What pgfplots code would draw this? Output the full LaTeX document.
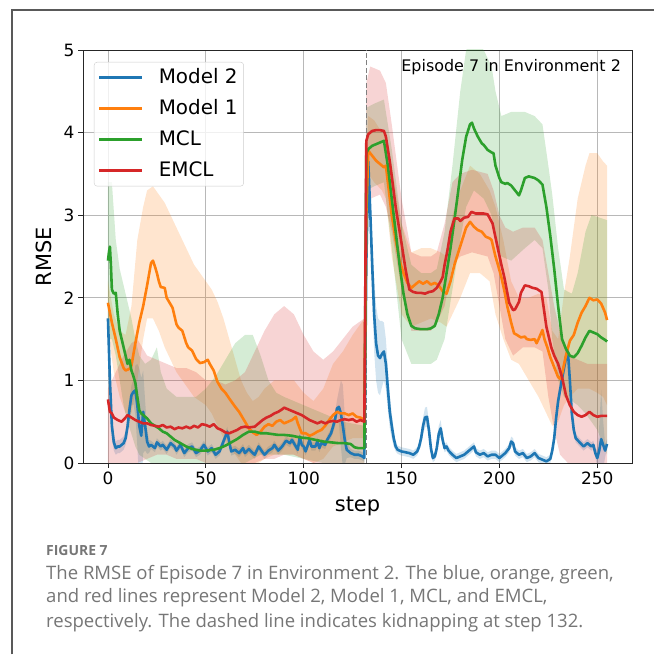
\documentclass[border=0pt]{standalone}
\usepackage{fontspec}
\setmainfont{DejaVu Sans}
\newfontfamily\capfont{Open Sans}
\usepackage{pgfplots}
\usepackage{pgfplotstable}
\pgfplotsset{compat=1.18}
\usepgfplotslibrary{fillbetween}

\definecolor{cB}{HTML}{1F77B4}
\definecolor{cO}{HTML}{FF7F0E}
\definecolor{cG}{HTML}{2CA02C}
\definecolor{cR}{HTML}{D62728}
\definecolor{capgray}{RGB}{118,118,118}

% Model 2: mean m, half width d of the band
\pgfplotstableread{
x m d
0 1.75 0.15
1 1.0 0.2
2 0.45 0.15
3 0.25 0.1
4 0.18 0.08
5 0.2 0.08
6 0.2 0.08
7 0.22 0.08
8 0.24 0.08
9 0.3 0.08
10 0.44 0.12
11 0.65 0.12
12 0.82 0.12
13 0.86 0.15
14 0.88 0.3
15 0.7 0.5
16 0.45 0.7
17 0.33 0.7
18 0.62 0.5
19 0.45 0.3
20 0.26 0.15
21 0.2 0.08
22 0.22 0.05
24 0.18 0.05
25 0.25 0.05
27 0.2 0.05
28 0.22 0.05
30 0.16 0.05
32 0.24 0.05
34 0.2 0.05
35 0.15 0.05
37 0.22 0.05
39 0.12 0.05
41 0.18 0.05
43 0.2 0.05
45 0.12 0.05
47 0.15 0.05
49 0.22 0.05
51 0.14 0.05
53 0.18 0.05
55 0.1 0.05
57 0.14 0.05
58 0.2 0.05
60 0.32 0.06
61 0.38 0.06
62 0.25 0.05
63 0.14 0.05
65 0.16 0.05
67 0.12 0.05
69 0.18 0.05
70 0.12 0.05
72 0.17 0.05
74 0.12 0.05
75 0.1 0.05
77 0.2 0.05
79 0.13 0.05
80 0.1 0.05
82 0.15 0.05
84 0.18 0.05
85 0.22 0.05
87 0.15 0.05
89 0.2 0.05
91 0.27 0.05
93 0.24 0.05
94 0.28 0.05
96 0.2 0.05
97 0.16 0.05
98 0.32 0.05
99 0.22 0.05
100 0.2 0.05
101 0.14 0.05
103 0.28 0.05
104 0.2 0.05
106 0.2 0.05
107 0.26 0.05
108 0.18 0.05
109 0.24 0.05
111 0.22 0.05
112 0.28 0.05
114 0.36 0.06
116 0.52 0.08
117 0.66 0.1
118 0.68 0.2
119 0.6 0.4
120 0.45 0.5
121 0.28 0.3
122 0.16 0.1
124 0.12 0.05
126 0.1 0.05
128 0.1 0.05
130 0.08 0.05
131 0.06 0.05
132 2.4 0.15
133 3.65 0.15
134 3.05 0.25
135 2.4 0.35
136 1.8 0.45
137 1.45 0.45
138 1.3 0.45
139 1.27 0.45
140 1.32 0.4
141 1.35 0.35
142 1.2 0.3
143 0.9 0.25
144 0.62 0.2
145 0.45 0.15
146 0.3 0.1
147 0.2 0.06
148 0.16 0.05
150 0.14 0.05
152 0.13 0.05
154 0.12 0.05
156 0.1 0.05
158 0.14 0.05
159 0.2 0.05
160 0.3 0.08
161 0.45 0.1
162 0.55 0.12
163 0.56 0.12
164 0.4 0.1
165 0.18 0.06
166 0.06 0.05
167 0.08 0.05
168 0.18 0.08
169 0.35 0.1
170 0.42 0.1
171 0.28 0.06
172 0.18 0.05
173 0.2 0.05
174 0.15 0.05
176 0.1 0.05
178 0.06 0.05
180 0.08 0.05
182 0.1 0.05
184 0.14 0.05
186 0.18 0.05
187 0.2 0.05
188 0.13 0.05
190 0.1 0.05
192 0.12 0.05
194 0.08 0.05
196 0.1 0.05
198 0.1 0.05
200 0.06 0.05
201 0.08 0.05
203 0.12 0.05
205 0.18 0.05
206 0.26 0.06
207 0.24 0.06
208 0.14 0.05
210 0.1 0.05
212 0.12 0.05
214 0.06 0.05
216 0.08 0.05
218 0.12 0.05
220 0.06 0.05
222 0.04 0.05
224 0.02 0.05
226 0.05 0.05
227 0.15 0.05
228 0.3 0.06
229 0.55 0.08
230 0.75 0.1
232 1.02 0.1
234 1.28 0.1
235 1.35 0.1
236 1.0 0.1
237 0.6 0.08
238 0.4 0.06
239 0.3 0.05
241 0.25 0.05
243 0.2 0.05
245 0.24 0.05
247 0.2 0.05
248 0.22 0.05
249 0.12 0.05
250 0.06 0.1
251 0.15 0.3
252 0.29 0.6
253 0.22 0.3
254 0.15 0.08
255 0.23 0.06
}\tblB

% Model 1
\pgfplotstableread{
x m
0 1.94
2 1.7
4 1.5
6 1.28
8 1.15
9 1.12
11 1.14
12 1.18
14 1.45
16 1.7
18 1.9
20 2.15
22 2.42
23 2.45
24 2.38
25 2.3
26 2.2
27 2.13
29 2.12
30 2.0
32 1.92
33 1.88
35 1.68
36 1.64
38 1.6
40 1.45
41 1.4
43 1.36
45 1.26
47 1.21
49 1.22
51 1.25
52 1.2
54 1.12
56 0.98
58 0.9
60 0.85
62 0.78
65 0.68
67 0.62
70 0.5
72 0.42
74 0.37
76 0.34
78 0.38
80 0.44
82 0.47
84 0.45
86 0.5
88 0.52
90 0.48
92 0.5
94 0.52
96 0.56
97 0.48
99 0.36
101 0.36
103 0.33
105 0.35
107 0.38
109 0.4
111 0.45
113 0.52
115 0.58
117 0.62
119 0.6
121 0.6
123 0.58
125 0.6
127 0.56
129 0.55
131 0.52
132 3.0
133 3.78
135 3.72
137 3.66
139 3.62
141 3.58
142 3.6
143 3.4
145 3.0
147 2.7
149 2.45
151 2.3
153 2.18
155 2.12
157 2.16
159 2.2
161 2.17
163 2.2
165 2.16
167 2.18
169 2.15
171 2.08
173 2.05
175 2.2
177 2.4
179 2.55
181 2.7
183 2.85
185 2.92
187 2.86
189 2.82
191 2.8
193 2.74
195 2.72
196 2.7
198 2.5
199 2.42
201 2.25
202.5 2.09
204 1.9
206 1.7
207.5 1.57
209 1.55
211 1.52
213 1.53
214 1.5
216 1.49
218 1.5
219 1.45
220 1.5
222 1.61
223 1.5
224.5 1.4
226 1.28
228 1.16
230 1.04
231 1.02
232 1.08
234 1.3
236 1.48
238 1.55
240 1.7
242 1.82
244 1.9
246 2.0
248 1.97
250 1.98
252 1.93
254 1.82
255 1.73
}\tblO

\pgfplotstableread{
x lo hi
0 1.6 2.2
3 1.1 1.8
6 0.8 1.6
9 0.6 1.55
12 0.6 1.9
15 1.0 2.7
18 1.5 3.1
20 1.75 3.3
23 1.75 3.35
26 1.6 3.25
29 1.4 3.15
32 1.25 3.0
35 1.1 2.85
38 1.0 2.7
41 0.9 2.55
44 0.8 2.4
47 0.75 2.3
50 0.7 2.2
53 0.6 2.1
56 0.45 1.95
59 0.3 1.75
62 0.2 1.5
65 0.1 1.25
68 0.0 1.0
71 0.0 0.85
74 0.0 0.75
77 0.0 0.8
80 0.05 0.9
85 0.1 1.0
90 0.1 1.0
95 0.1 1.0
100 0.05 0.85
105 0.0 0.75
110 0.05 0.9
115 0.2 1.2
120 0.25 1.35
125 0.3 1.55
131 0.3 1.75
132 2.8 3.6
133 3.5 4.2
136 3.4 4.15
140 3.3 4.0
142 3.2 4.0
145 2.5 3.6
150 1.8 2.9
155 1.65 2.55
160 1.7 2.6
165 1.75 2.6
170 1.7 2.55
173 1.65 2.5
176 1.8 3.0
180 2.0 3.3
185 2.3 3.6
190 2.3 3.5
195 2.2 3.3
198 1.8 3.1
202 1.5 2.7
206 1.25 2.2
210 1.2 2.0
215 1.0 2.0
220 0.8 2.05
224 0.6 2.0
227 0.45 1.6
230 0.5 1.5
233 0.7 2.05
236 0.8 2.5
240 0.9 3.2
244 0.9 3.6
246 0.9 3.75
250 0.85 3.75
253 0.8 3.65
255 0.7 3.6
}\bandO

% MCL
\pgfplotstableread{
x m
0 2.45
0.5 2.55
1 2.62
1.5 2.4
2 2.1
3 2.05
4 2.06
5 1.8
6 1.6
7 1.5
8 1.4
9 1.3
10 1.2
11 1.25
12 1.12
13 1.05
14 0.97
15 0.8
16 0.64
17 0.6
18 0.58
20 0.54
22 0.48
24 0.45
26 0.42
28 0.38
30 0.36
32 0.32
34 0.28
37 0.24
40 0.2
43 0.17
47 0.15
50 0.15
54 0.16
57 0.18
60 0.21
63 0.25
66 0.29
69 0.34
72 0.38
75 0.38
78 0.36
81 0.36
84 0.35
87 0.34
90 0.34
94 0.33
98 0.31
102 0.3
106 0.28
110 0.26
114 0.25
118 0.24
121 0.24
124 0.23
126 0.19
128 0.18
131 0.18
132 3.75
133 3.8
135 3.84
137 3.86
139 3.88
141 3.9
143 3.6
145 3.2
147 2.8
149 2.4
151 2.05
153 1.8
155 1.66
157 1.63
160 1.62
163 1.62
165 1.63
167 1.66
169 1.8
171 2.0
173 2.3
175 2.6
177 2.94
179 3.3
181 3.67
183 3.95
185 4.1
186 4.12
187 4.05
189 3.95
191 3.87
192 3.85
194 3.79
196 3.76
197 3.75
198 3.6
200 3.45
201 3.4
203 3.38
204 3.39
206 3.36
208 3.3
210 3.24
211 3.3
213 3.45
215 3.47
218 3.45
220 3.42
222 3.37
224 3.1
226 2.75
228 2.35
230 1.9
232 1.5
234 1.38
236 1.3
238 1.28
240 1.33
242 1.42
244 1.52
246 1.6
248 1.58
250 1.56
252 1.52
254 1.49
255 1.47
}\tblG

\pgfplotstableread{
x lo hi
0 1.5 3.4
2 1.5 3.4
4 1.3 2.7
6 1.0 2.35
8 0.7 2.15
10 0.5 1.95
12 0.35 1.75
14 0.2 1.5
16 0.1 1.3
19 0.05 1.2
22 0.0 1.25
25 0.0 1.4
27 0.0 1.1
30 0.0 0.9
35 0.0 0.8
40 0.0 0.8
45 0.0 0.8
50 0.0 0.9
55 0.0 1.05
60 0.0 1.25
65 0.0 1.45
70 0.0 1.55
74 0.05 1.55
78 0.1 1.3
82 0.1 1.0
86 0.1 0.85
90 0.1 0.8
100 0.05 0.7
110 0.0 0.6
120 0.0 0.5
131 0.0 0.45
132 3.3 4.3
136 3.35 4.35
141 3.4 4.4
145 2.6 3.8
150 1.5 2.9
155 1.2 2.4
160 1.2 2.3
165 1.2 2.3
168 1.25 2.35
172 1.5 2.8
176 2.1 3.6
180 2.7 4.5
183 3.1 5.0
187 3.3 5.1
192 3.2 5.0
196 3.0 4.8
198 2.7 4.5
201 2.5 4.2
206 2.45 4.25
213 2.6 4.25
218 2.7 4.2
222 2.6 4.1
225 2.1 3.6
227 1.5 3.25
230 1.0 2.6
233 0.8 2.1
237 0.75 2.05
240 0.7 2.3
244 0.6 2.8
247 0.5 3.0
250 0.4 2.98
255 0.1 2.94
}\bandG

% EMCL
\pgfplotstableread{
x m
0 0.77
1 0.62
2 0.6
3 0.55
5 0.52
7 0.5
9 0.55
10 0.58
12 0.55
14 0.52
16 0.5
18 0.48
20 0.48
22 0.46
24 0.45
26 0.44
28 0.46
30 0.43
32 0.44
34 0.41
36 0.43
38 0.42
40 0.44
42 0.42
44 0.45
46 0.43
48 0.47
50 0.46
52 0.44
54 0.47
56 0.42
58 0.4
60 0.37
62 0.36
64 0.38
66 0.4
68 0.43
70 0.44
72 0.43
75 0.44
77 0.48
79 0.52
81 0.55
83 0.57
85 0.6
87 0.62
89 0.65
90 0.67
91 0.66
93 0.64
95 0.62
97 0.6
99 0.58
101 0.55
103 0.52
105 0.5
107 0.48
109 0.5
111 0.48
113 0.5
115 0.51
117 0.5
119 0.52
121 0.53
123 0.52
125 0.53
127 0.5
129 0.52
131 0.5
132 3.9
133 3.98
135 4.02
137 4.03
139 4.03
141 4.02
142 3.95
144 3.65
145 3.47
147 3.1
150 2.66
152 2.35
154 2.1
156 2.07
158 2.06
160 2.06
162 2.05
164 2.07
166 2.08
168 2.12
170 2.2
171 2.25
172 2.4
173.5 2.58
175 2.8
177 2.96
179 2.96
180 2.93
182 2.97
184 2.98
185.7 3.04
188 3.02
192 3.02
194 3.01
196.5 2.9
199 2.62
201 2.4
202.5 2.25
205 1.94
207 1.85
208 1.86
210 1.95
211 2.06
213 2.15
215 2.14
217 2.12
219 2.11
221.5 2.07
224 1.65
226.5 1.4
228 1.3
230 1.2
232 1.04
234 0.82
236 0.7
238 0.62
240 0.58
242 0.56
244 0.58
246 0.62
248 0.58
250 0.56
252 0.57
255 0.57
}\tblR

\pgfplotstableread{
x lo hi
0 0.0 0.9
4 0.0 1.1
8 0.0 1.3
12 0.0 1.45
15 0.0 1.5
20 0.05 1.3
25 0.1 1.25
30 0.1 1.2
35 0.05 1.15
40 0.05 1.15
45 0.05 1.1
50 0.0 1.0
55 0.0 1.0
60 0.0 0.95
65 0.0 1.0
70 0.0 1.1
75 0.0 1.35
80 0.05 1.6
85 0.05 1.8
90 0.1 1.9
95 0.1 1.8
100 0.05 1.55
105 0.0 1.35
110 0.0 1.25
115 0.0 1.35
120 0.0 1.5
125 0.0 1.65
131 0.0 1.75
132 3.2 4.6
134 3.2 4.8
139 3.25 4.75
142 3.1 4.6
145 2.8 4.1
150 2.1 3.2
155 1.6 2.55
160 1.6 2.5
165 1.6 2.5
168 1.7 2.55
172 1.9 2.9
176 2.4 3.4
180 2.5 3.5
186 2.55 3.55
194 2.5 3.5
197 2.3 3.3
200 1.9 3.0
203 1.5 2.85
207 1.3 2.8
212 1.4 2.85
218 1.4 2.85
222 1.35 2.7
225 0.8 2.3
228 0.4 1.9
231 0.1 1.6
235 0.0 1.3
240 0.0 1.25
245 0.0 1.2
250 0.0 1.2
255 0.0 1.2
}\bandR

\begin{document}
\begin{tikzpicture}
\path (0,0) rectangle (655bp,655bp);
\draw[black!65, line width=1.2bp] (12bp,0.6bp) -- (12bp,645bp) -- (654bp,645bp);

\begin{axis}[
  at={(83bp,192bp)}, anchor=south west,
  scale only axis, width=549bp, height=413bp,
  xmin=-12.75, xmax=267.75, ymin=0, ymax=5,
  xtick={0,50,...,250}, ytick={0,1,...,5},
  grid=major, grid style={color=black!28, line width=0.8bp},
  tick align=outside, tick pos=left, major tick length=5bp,
  axis line style={black!85, line width=0.9bp},
  tick style={black!85, line width=0.9bp},
  ticklabel style={font=\fontsize{17}{20}\selectfont},
  /pgf/number format/assume math mode=true,
  xlabel={step}, ylabel={RMSE},
  label style={font=\fontsize{21}{25}\selectfont},
  xlabel style={yshift=-6bp},
  ylabel style={yshift=5bp},
  legend cell align=left,
  legend image code/.code={\draw[#1, line width=2.6bp] (0bp,0bp) -- (43bp,0bp);},
  legend style={at={(0.02,0.971)}, anchor=north west,
    draw=black!20, rounded corners=3bp, fill=white, fill opacity=0.8,
    text opacity=1, font=\fontsize{20}{24}\selectfont,
    inner xsep=4bp, inner ysep=4bp, row sep=8bp, column sep=13bp,
    nodes={inner sep=2bp, text height=15bp, text depth=4bp}},
]
% bands
\addplot[draw=none, name path=bBu, forget plot] table[x=x, y expr=\thisrow{m}+\thisrow{d}] {\tblB};
\addplot[draw=none, name path=bBl, forget plot] table[x=x, y expr=\thisrow{m}-\thisrow{d}] {\tblB};
\addplot[fill=cB, fill opacity=0.2, draw=none, forget plot] fill between[of=bBu and bBl];

\addplot[draw=none, name path=bOu, forget plot] table[x=x, y=hi] {\bandO};
\addplot[draw=none, name path=bOl, forget plot] table[x=x, y=lo] {\bandO};
\addplot[fill=cO, fill opacity=0.2, draw=none, forget plot] fill between[of=bOu and bOl];

\addplot[draw=none, name path=bGu, forget plot] table[x=x, y=hi] {\bandG};
\addplot[draw=none, name path=bGl, forget plot] table[x=x, y=lo] {\bandG};
\addplot[fill=cG, fill opacity=0.2, draw=none, forget plot] fill between[of=bGu and bGl];

\addplot[draw=none, name path=bRu, forget plot] table[x=x, y=hi] {\bandR};
\addplot[draw=none, name path=bRl, forget plot] table[x=x, y=lo] {\bandR};
\addplot[fill=cR, fill opacity=0.2, draw=none, forget plot] fill between[of=bRu and bRl];

% kidnapping
\addplot[black!50, dash pattern=on 5bp off 2.5bp, line width=1.3bp, forget plot] coordinates {(132,0) (132,5)};

% means
\addplot[cB, line width=2.6bp, line join=round] table[x=x, y=m] {\tblB};
\addlegendentry{Model 2}
\addplot[cO, line width=2.6bp, line join=round] table[x=x, y=m] {\tblO};
\addlegendentry{Model 1}
\addplot[cG, line width=2.6bp, line join=round] table[x=x, y=m] {\tblG};
\addlegendentry{MCL}
\addplot[cR, line width=2.6bp, line join=round] table[x=x, y=m] {\tblR};
\addlegendentry{EMCL}

\node[font=\fontsize{16}{19}\selectfont] at (axis cs:206,4.79) {Episode 7 in Environment 2};
\end{axis}

\node[anchor=base west, font=\capfont\bfseries\fontsize{14}{16}\selectfont, text=capgray, inner sep=0pt] at (46bp,99bp) {FIGURE 7};
\node[anchor=base west, font=\capfont\fontsize{18.6}{22}\selectfont, text=capgray, inner sep=0pt] at (46bp,75bp) {The RMSE of Episode 7 in Environment 2. The blue, orange, green,};
\node[anchor=base west, font=\capfont\fontsize{18.6}{22}\selectfont, text=capgray, inner sep=0pt] at (46bp,52bp) {and red lines represent Model 2, Model 1, MCL, and EMCL,};
\node[anchor=base west, font=\capfont\fontsize{18.6}{22}\selectfont, text=capgray, inner sep=0pt] at (46bp,28bp) {respectively. The dashed line indicates kidnapping at step 132.};
\end{tikzpicture}
\end{document}
